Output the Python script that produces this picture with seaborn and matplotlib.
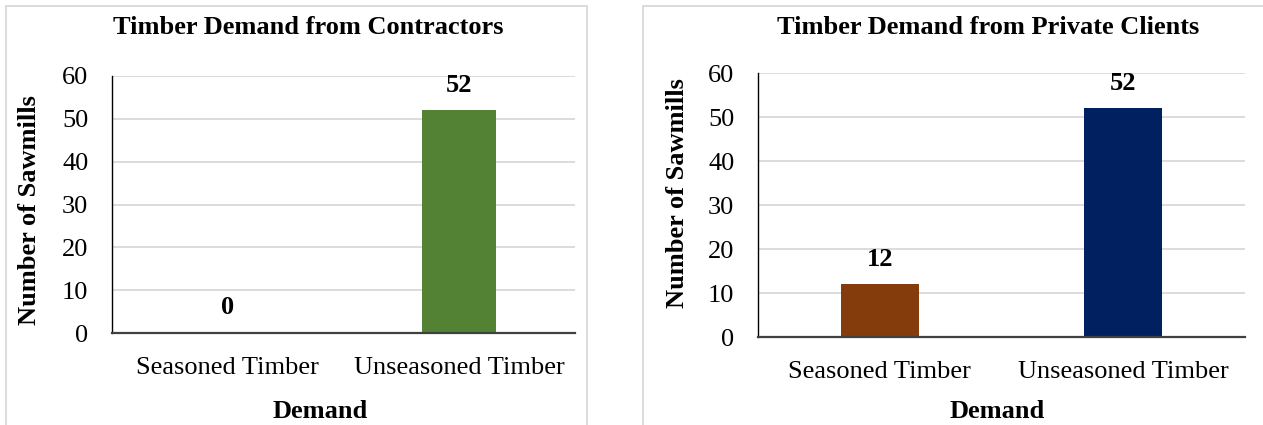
import matplotlib
matplotlib.use("Agg")
import matplotlib.pyplot as plt
from matplotlib.patches import Rectangle
import pandas as pd
import seaborn as sns

# Data
categories = ["Seasoned Timber", "Unseasoned Timber"]
contractors = [0, 52]
private_clients = [12, 52]
contractor_colors = ["#548235", "#548235"]
private_colors = ["#843C0C", "#002060"]
titles = ["Timber Demand from Contractors", "Timber Demand from Private Clients"]
y_ticks = [0, 10, 20, 30, 40, 50, 60]

sns.set_theme(style="white")
plt.rcParams["font.family"] = ["Liberation Serif", "DejaVu Serif"]

W, H = 1263, 425
fig = plt.figure(figsize=(W / 100, H / 100), dpi=100)
fig.patch.set_facecolor("white")


def fx(px):
    return px / W


def fy(py):
    return 1 - py / H


FS = 19
GRID = "#D9D9D9"

# Chart-area frames
for x0, x1 in [(6, 587), (643, 1275)]:
    fig.patches.append(Rectangle((fx(x0), fy(440)), fx(x1) - fx(x0), fy(6) - fy(440),
                                 transform=fig.transFigure, fill=False,
                                 edgecolor=GRID, linewidth=1.3, zorder=0))

panels = [
    dict(vals=contractors, cols=contractor_colors, title=titles[0],
         box=(112, 575, 76, 333), title_xy=(308, 28), ylab_xy=(30, 210), xlab_xy=(320, 412)),
    dict(vals=private_clients, cols=private_colors, title=titles[1],
         box=(758, 1245, 73, 337), title_xy=(988, 28), ylab_xy=(677, 193), xlab_xy=(997, 412)),
]

for p in panels:
    x0, x1, ytop, ybot = p["box"]
    ax = fig.add_axes([fx(x0), fy(ybot), fx(x1) - fx(x0), fy(ytop) - fy(ybot)])
    df = pd.DataFrame({"Demand": categories, "Sawmills": p["vals"]})
    sns.barplot(data=df, x="Demand", y="Sawmills", hue="Demand",
                palette=p["cols"], legend=False, width=0.32,
                linewidth=0, saturation=1, ax=ax)
    ax.set_ylim(0, 60)
    ax.set_xlim(-0.5, 1.5)
    ax.set_yticks(y_ticks)
    ax.set_yticklabels([str(t) for t in y_ticks])
    ax.yaxis.grid(True, color=GRID, linewidth=1.3)
    ax.set_axisbelow(True)
    for s in ["top", "right"]:
        ax.spines[s].set_visible(False)
    ax.spines["left"].set_color("black")
    ax.spines["left"].set_linewidth(1.0)
    ax.spines["bottom"].set_color("#404040")
    ax.spines["bottom"].set_linewidth(1.6)
    ax.spines["bottom"].set_zorder(5)
    ax.tick_params(axis="y", length=0, pad=17, labelsize=FS, labelcolor="black")
    ax.tick_params(axis="x", length=0, pad=17, labelsize=FS, labelcolor="black")
    ax.set_xlabel("")
    ax.set_ylabel("")
    for i, v in enumerate(p["vals"]):
        ax.annotate(str(v), (i, v), xytext=(0, 18), textcoords="offset points",
                    ha="center", va="center", fontsize=FS, fontweight="bold", color="black")

    fig.text(fx(p["title_xy"][0]), fy(p["title_xy"][1]), p["title"], ha="center", va="center",
             fontsize=FS, fontweight="bold", color="black")
    fig.text(fx(p["ylab_xy"][0]), fy(p["ylab_xy"][1]), "Number of Sawmills", ha="center",
             va="center", rotation=90, fontsize=FS, fontweight="bold", color="black")
    fig.text(fx(p["xlab_xy"][0]), fy(p["xlab_xy"][1]), "Demand", ha="center", va="center",
             fontsize=FS, fontweight="bold", color="black")

fig.savefig("out.png", dpi=100, facecolor="white")
